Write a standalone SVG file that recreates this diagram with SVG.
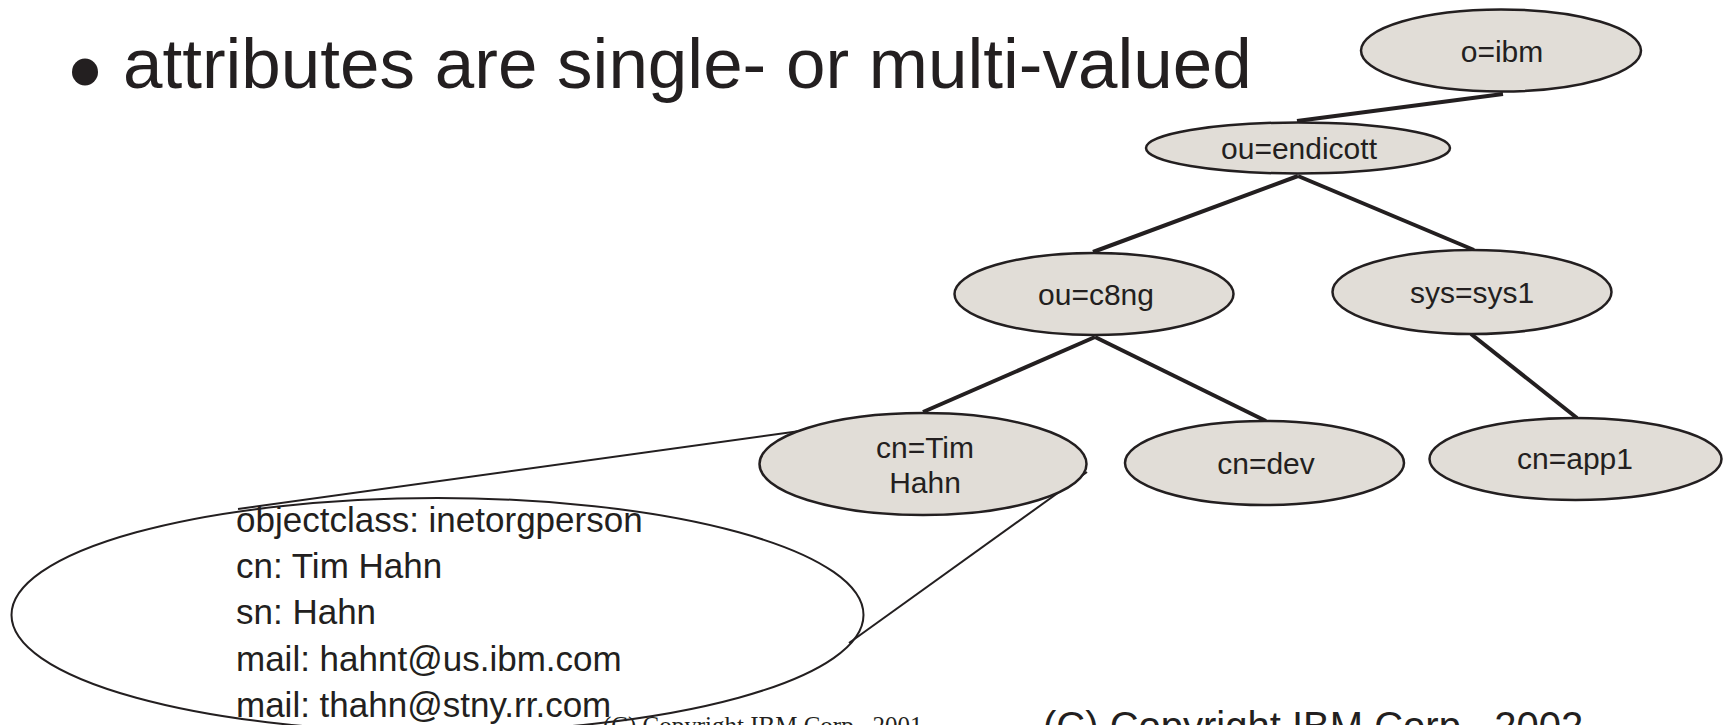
<svg xmlns="http://www.w3.org/2000/svg" width="1729" height="725" viewBox="0 0 1729 725">
  <style>
    .sans { font-family: "Liberation Sans", Arial, Helvetica, sans-serif; fill: #231f20; }
    .node ellipse { fill: #e1ddd7; stroke: #231f20; stroke-width: 2.5; }
    .node text { font-family: "Liberation Sans", Arial, Helvetica, sans-serif; font-size: 30px; fill: #231f20; text-anchor: middle; }
    .tree line { stroke: #231f20; stroke-width: 4; stroke-linecap: butt; }
    .callout line { stroke: #231f20; stroke-width: 2; }
    .attrs text { font-family: "Liberation Sans", Arial, Helvetica, sans-serif; font-size: 35px; fill: #231f20; }
  </style>
  <rect width="1729" height="725" fill="#ffffff"/>

  <!-- heading -->
  <g id="heading">
    <ellipse cx="85" cy="72" rx="13" ry="13.5" fill="#231f20"/>
    <text class="sans" x="123" y="88" font-size="71">attributes are single- or multi-valued</text>
  </g>

  <!-- footer notes (partly below the visible area) -->
  <g id="footer">
    <text x="603" y="734" font-family="'Liberation Serif', 'Times New Roman', serif" font-size="25" fill="#231f20">(C) Copyright IBM Corp., 2001</text>
    <text class="sans" x="1043" y="740" font-size="40">(C) Copyright IBM Corp., 2002</text>
  </g>

  <!-- connectors -->
  <g id="connectors">
    <g class="tree">
      <line x1="1503" y1="94" x2="1297" y2="121"/>
      <line x1="1298" y1="176" x2="1093" y2="252"/>
      <line x1="1298" y1="176" x2="1474" y2="250"/>
      <line x1="1095" y1="337" x2="923" y2="412"/>
      <line x1="1095" y1="337" x2="1266" y2="421"/>
      <line x1="1471" y1="334" x2="1577" y2="418"/>
    </g>
    <g class="callout">
      <line x1="800" y1="431" x2="238" y2="509"/>
      <line x1="1087" y1="472" x2="849" y2="643"/>
    </g>
  </g>

  <!-- directory tree nodes -->
  <g id="node-o-ibm" class="node">
    <ellipse cx="1501" cy="50.5" rx="140" ry="41"/>
    <text x="1502" y="62">o=ibm</text>
  </g>
  <g id="node-ou-endicott" class="node">
    <ellipse cx="1298" cy="148" rx="152" ry="25.5"/>
    <text x="1299" y="159">ou=endicott</text>
  </g>
  <g id="node-ou-c8ng" class="node">
    <ellipse cx="1094" cy="294" rx="139.5" ry="41"/>
    <text x="1096" y="305">ou=c8ng</text>
  </g>
  <g id="node-sys-sys1" class="node">
    <ellipse cx="1472" cy="292" rx="139.5" ry="42"/>
    <text x="1472" y="303">sys=sys1</text>
  </g>
  <g id="node-cn-tim-hahn" class="node">
    <ellipse cx="923" cy="464" rx="163.5" ry="51"/>
    <text x="925" y="458">cn=Tim</text>
    <text x="925" y="493">Hahn</text>
  </g>
  <g id="node-cn-dev" class="node">
    <ellipse cx="1264.5" cy="463" rx="139.5" ry="42"/>
    <text x="1266" y="474">cn=dev</text>
  </g>
  <g id="node-cn-app1" class="node">
    <ellipse cx="1575.5" cy="459" rx="146" ry="41"/>
    <text x="1575" y="469">cn=app1</text>
  </g>

  <!-- expanded entry for cn=Tim Hahn -->
  <g id="entry-attributes" class="attrs">
    <ellipse cx="437.5" cy="615" rx="426" ry="117" fill="none" stroke="#231f20" stroke-width="2"/>
    <text x="236" y="532">objectclass: inetorgperson</text>
    <text x="236" y="578">cn: Tim Hahn</text>
    <text x="236" y="624">sn: Hahn</text>
    <text x="236" y="670.5">mail: hahnt@us.ibm.com</text>
    <text x="236" y="717">mail: thahn@stny.rr.com</text>
  </g>
</svg>
